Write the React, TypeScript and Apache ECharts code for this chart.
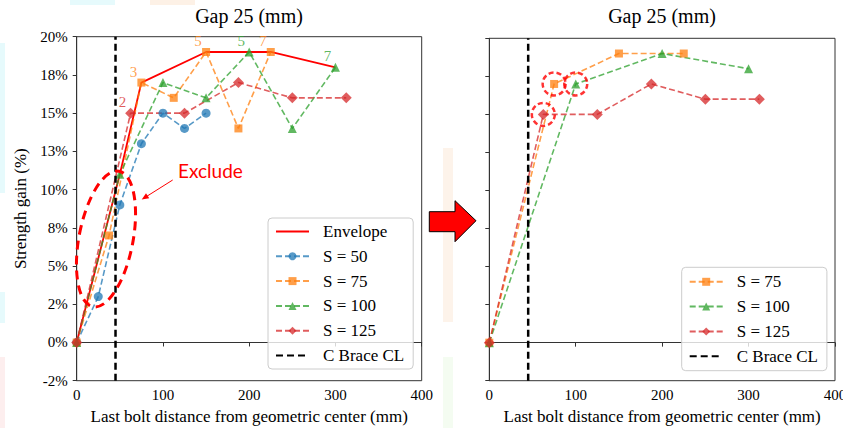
import React, { useEffect, useRef } from 'react';
import * as echarts from 'echarts';

// ---------- data ----------
const xTicks = [0, 100, 200, 300, 400];
const yTickLabels = ['-2%', '0%', '2%', '5%', '8%', '10%', '13%', '15%', '18%', '20%'];

const envelopeX = [0, 50, 75, 150, 225, 300];
const envelopeY = [0, 11, 17, 19, 19, 18];

const s50X = [0, 25, 50, 75, 100, 125, 150];
const s50Y = [0, 3.0, 9.0, 13.0, 15.0, 14.0, 15.0];

const s75X = [0, 37.5, 75, 112.5, 150, 187.5, 225];
const s75Y = [0, 7.0, 17.0, 16.0, 19.0, 14.0, 19.0];
const s75PointLabels = ['', '', '3', '', '5', '', '7'];

const s100X = [0, 50, 100, 150, 200, 250, 300];
const s100Y = [0, 11, 17, 16, 19, 14, 18];
const s100PointLabels = ['', '', '', '', '5', '', '7'];

const s125X = [0, 62.5, 125, 187.5, 250, 312.5];
const s125Y = [0, 15, 15, 17, 16, 16];
const s125PointLabels = ['', '2', '', '', '', ''];

const rightS75X = [0, 75, 150, 225];
const rightS75Y = [0, 17, 19, 19];
const rightS100X = [0, 100, 200, 300];
const rightS100Y = [0, 17, 19, 18];
const rightS125X = [0, 62.5, 125, 187.5, 250, 312.5];
const rightS125Y = [0, 15, 15, 17, 16, 16];

const highlightX = [75, 100, 62.5];
const highlightY = [17, 17, 15];

const braceX = 45;
const yMin = -2.5;
const yMax = 20;

const SERIF = 'Liberation Serif';
const C_BLUE = '#1f77b4';
const C_ORANGE = '#ff7f0e';
const C_GREEN = '#2ca02c';
const C_RED = '#d62728';

function pairs(xs: number[], ys: number[]) {
  return xs.map((x, i) => [x, ys[i]]);
}

function labelled(xs: number[], ys: number[], labels: string[], color: string) {
  return xs.map((x, i) => {
    if (!labels[i]) return [x, ys[i]];
    return {
      value: [x, ys[i]],
      label: {
        show: true,
        formatter: labels[i],
        position: 'inside',
        offset: [-8, -11],
        color,
        fontSize: 15,
        fontFamily: SERIF,
      },
    };
  });
}

function dashedSeries(name: string, data: any[], color: string, symbol: string, size: number, axis: number) {
  return {
    type: 'line',
    name,
    xAxisIndex: axis,
    yAxisIndex: axis,
    data,
    symbol,
    symbolSize: size,
    showSymbol: true,
    color,
    itemStyle: { color, opacity: 0.75 },
    lineStyle: { color, width: 1.6, type: [6, 3], opacity: 0.75 },
    z: 3,
  };
}

function braceSeries(axis: number) {
  return {
    type: 'line',
    name: 'C Brace CL',
    xAxisIndex: axis,
    yAxisIndex: axis,
    data: [[braceX, yMin], [braceX, yMax]],
    symbol: 'none',
    color: '#000',
    lineStyle: { color: '#000', width: 2.5, type: [7, 4] },
    z: 5,
  };
}

function arrowHead(x1: number, y1: number, x2: number, y2: number, len: number, half: number) {
  const dx = x2 - x1;
  const dy = y2 - y1;
  const l = Math.sqrt(dx * dx + dy * dy);
  const ux = dx / l;
  const uy = dy / l;
  const bx = x2 - ux * len;
  const by = y2 - uy * len;
  return [
    [x2, y2],
    [bx + uy * half, by - ux * half],
    [bx - uy * half, by + ux * half],
  ];
}

const noSymbol = { color: 'rgba(0,0,0,0)', borderWidth: 0, opacity: 0 };

export default function App() {
  const ref = useRef<HTMLDivElement>(null);

  useEffect(() => {
    document.body.style.margin = '0';
    if (!ref.current) return;
    const chart = echarts.init(ref.current, undefined, { renderer: 'svg' });

    const xAxisBase = (gridIndex: number) => ({
      type: 'value',
      gridIndex,
      min: 0,
      max: 400,
      interval: 100,
      axisLine: { show: true, lineStyle: { color: '#333', width: 1 } },
      axisTick: { show: true, inside: false, length: 4, lineStyle: { color: '#333' } },
      axisLabel: {
        show: true,
        margin: 7,
        fontSize: 15,
        fontFamily: SERIF,
        color: '#000',
        formatter: (v: number) => (xTicks.includes(v) ? String(v) : ''),
      },
      splitLine: { show: false },
      name: 'Last bolt distance from geometric center (mm)',
      nameLocation: 'middle',
      nameGap: 26,
      nameTextStyle: { fontSize: 17, fontFamily: SERIF, color: '#000', verticalAlign: 'top' },
    });

    const yAxisBase = (gridIndex: number, labels: boolean) => ({
      type: 'value',
      gridIndex,
      min: yMin,
      max: yMax,
      interval: 2.5,
      axisLine: { show: true, lineStyle: { color: '#333', width: 1 } },
      axisTick: { show: true, inside: false, length: 4, lineStyle: { color: '#333' } },
      axisLabel: {
        show: labels,
        margin: 9,
        fontSize: 15,
        fontFamily: SERIF,
        color: '#000',
        formatter: (v: number) => yTickLabels[Math.round((v - yMin) / 2.5)] ?? '',
      },
      splitLine: { show: false },
      name: labels ? 'Strength gain (%)' : '',
      nameLocation: 'middle',
      nameGap: 48,
      nameRotate: 90,
      nameTextStyle: { fontSize: 17, fontFamily: SERIF, color: '#000' },
    });

    const legendBase = {
      orient: 'vertical',
      itemWidth: 33,
      itemHeight: 10,
      itemGap: 7.8,
      backgroundColor: 'rgba(255,255,255,0.8)',
      borderColor: '#cccccc',
      borderWidth: 1,
      borderRadius: 4,
      textStyle: {
        fontSize: 17,
        fontFamily: SERIF,
        color: '#000',
        lineHeight: 17,
        padding: [0, 0, 0, 9],
      },
    };

    const ellipseCx = 106;
    const ellipseCy = 239;
    const arrowStart = [172.7, 180];
    const arrowEnd = [141.7, 199.5];

    const option: any = {
      animation: false,
      backgroundColor: '#ffffff',
      title: [
        {
          text: 'Gap 25 (mm)',
          left: 249,
          top: 6,
          padding: 0,
          textAlign: 'center',
          textStyle: { fontSize: 20, fontFamily: SERIF, fontWeight: 'normal', color: '#000' },
        },
        {
          text: 'Gap 25 (mm)',
          left: 662,
          top: 6,
          padding: 0,
          textAlign: 'center',
          textStyle: { fontSize: 20, fontFamily: SERIF, fontWeight: 'normal', color: '#000' },
        },
      ],
      grid: [
        { left: 76.7, top: 36.7, width: 345, height: 344, show: true, borderColor: '#333', borderWidth: 1, backgroundColor: 'transparent', containLabel: false, outerBoundsMode: 'none' },
        { left: 489.3, top: 38.3, width: 345.7, height: 342.4, show: true, borderColor: '#333', borderWidth: 1, backgroundColor: 'transparent', containLabel: false, outerBoundsMode: 'none' },
      ],
      xAxis: [xAxisBase(0), xAxisBase(1)],
      yAxis: [yAxisBase(0, true), yAxisBase(1, false)],
      legend: [
        {
          ...legendBase,
          left: 268,
          top: 218,
          padding: [5, 9, 5, 7],
          data: [
            { name: 'Envelope', itemStyle: noSymbol },
            'S = 50',
            'S = 75',
            'S = 100',
            'S = 125',
            { name: 'C Brace CL', itemStyle: noSymbol },
          ],
        },
        {
          ...legendBase,
          left: 681.7,
          top: 267.3,
          padding: [6, 9, 6, 7],
          data: ['S = 75', 'S = 100', 'S = 125', { name: 'C Brace CL', itemStyle: noSymbol }],
        },
      ],
      series: [
        {
          type: 'line',
          name: 'Envelope',
          xAxisIndex: 0,
          yAxisIndex: 0,
          data: pairs(envelopeX, envelopeY),
          symbol: 'none',
          color: '#ff0000',
          lineStyle: { color: '#ff0000', width: 1.8, type: 'solid' },
          z: 2,
        },
        dashedSeries('S = 50', pairs(s50X, s50Y), C_BLUE, 'circle', 9, 0),
        dashedSeries('S = 75', labelled(s75X, s75Y, s75PointLabels, C_ORANGE), C_ORANGE, 'rect', 8, 0),
        dashedSeries('S = 100', labelled(s100X, s100Y, s100PointLabels, C_GREEN), C_GREEN, 'triangle', 9, 0),
        dashedSeries('S = 125', labelled(s125X, s125Y, s125PointLabels, C_RED), C_RED, 'diamond', 11, 0),
        braceSeries(0),
        dashedSeries('S = 75', pairs(rightS75X, rightS75Y), C_ORANGE, 'rect', 8, 1),
        dashedSeries('S = 100', pairs(rightS100X, rightS100Y), C_GREEN, 'triangle', 9, 1),
        dashedSeries('S = 125', pairs(rightS125X, rightS125Y), C_RED, 'diamond', 11, 1),
        braceSeries(1),
        {
          type: 'scatter',
          name: 'highlight',
          xAxisIndex: 1,
          yAxisIndex: 1,
          data: pairs(highlightX, highlightY),
          symbol: 'circle',
          symbolSize: 23,
          itemStyle: { color: 'rgba(0,0,0,0)', borderColor: '#ff0000', borderWidth: 2.5, borderType: [5, 3] },
          z: 6,
          silent: true,
        },
      ],
      graphic: [
        // faint background artifacts
        { type: 'rect', shape: { x: 70, y: 0, width: 45, height: 5 }, style: { fill: '#e6fafc' }, z: -10, silent: true },
        { type: 'rect', shape: { x: 150, y: 0, width: 45, height: 5 }, style: { fill: '#fdf1e6' }, z: -10, silent: true },
        { type: 'rect', shape: { x: 0, y: 43, width: 5, height: 150 }, style: { fill: '#e6fafc' }, z: -10, silent: true },
        { type: 'rect', shape: { x: 0, y: 292, width: 5, height: 31 }, style: { fill: '#e6fafc' }, z: -10, silent: true },
        { type: 'rect', shape: { x: 0, y: 357, width: 5, height: 71 }, style: { fill: '#fdeeee' }, z: -10, silent: true },
        { type: 'rect', shape: { x: 443, y: 148, width: 10, height: 174 }, style: { fill: '#fdf3ea' }, z: -10, silent: true },
        { type: 'rect', shape: { x: 443, y: 357, width: 10, height: 71 }, style: { fill: '#f4fcf1' }, z: -10, silent: true },
        // exclude ellipse
        {
          type: 'ellipse',
          x: ellipseCx,
          y: ellipseCy,
          rotation: -0.19,
          shape: { cx: 0, cy: 0, rx: 27, ry: 69 },
          style: { fill: 'none', stroke: '#ff0000', lineWidth: 3, lineDash: [9, 6] },
          z: 20,
          silent: true,
        },
        {
          type: 'text',
          x: 178,
          y: 170.5,
          style: {
            text: 'Exclude',
            fill: '#ff0000',
            font: '19px Lato',
            textAlign: 'left',
            textVerticalAlign: 'middle',
          },
          z: 20,
          silent: true,
        },
        {
          type: 'line',
          shape: { x1: arrowStart[0], y1: arrowStart[1], x2: arrowEnd[0] + 4, y2: arrowEnd[1] - 2.5 },
          style: { stroke: '#ff0000', lineWidth: 1 },
          z: 20,
          silent: true,
        },
        {
          type: 'polygon',
          shape: { points: arrowHead(arrowStart[0], arrowStart[1], arrowEnd[0], arrowEnd[1], 7, 3) },
          style: { fill: '#ff0000' },
          z: 20,
          silent: true,
        },
        // block arrow between the panels
        {
          type: 'polygon',
          shape: {
            points: [
              [429.3, 211.7],
              [455, 211.7],
              [455, 200.7],
              [476, 220.7],
              [455, 241.7],
              [455, 231.7],
              [429.3, 231.7],
            ],
          },
          style: { fill: '#ff0000', stroke: '#000', lineWidth: 1 },
          z: 20,
          silent: true,
        },
      ],
    };

    chart.setOption(option);
    return () => chart.dispose();
  }, []);

  return <div ref={ref} style={{ width: 843, height: 428 }} />;
}
